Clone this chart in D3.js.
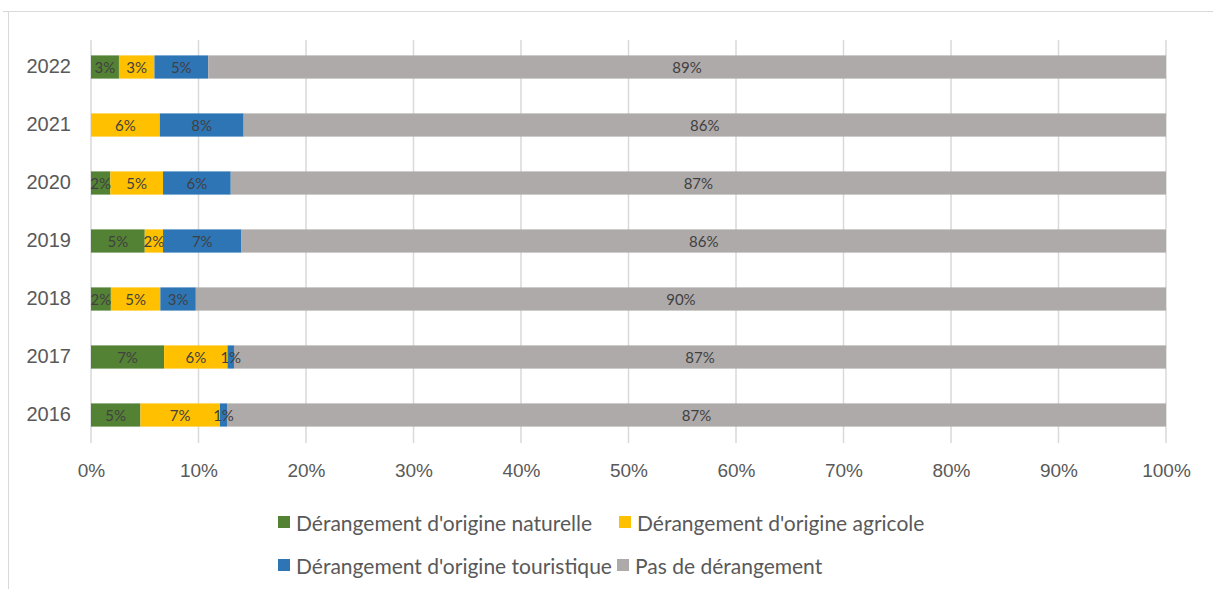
<!DOCTYPE html>
<html><head><meta charset="utf-8">
<script src="https://cdn.jsdelivr.net/npm/d3@7"></script>
<style>
html,body{margin:0;padding:0;background:#fff;}
svg{display:block;font-family:Lato,"Open Sans",sans-serif;}
</style></head>
<body><svg id="c" width="1213" height="589"></svg>
<script>
const years = ["2022","2021","2020","2019","2018","2017","2016"];
const seriesNames = ["Dérangement d'origine naturelle","Dérangement d'origine agricole","Dérangement d'origine touristique","Pas de dérangement"];
const naturelle   = [2.6, 0.0, 1.8, 5.0, 1.85, 6.8, 4.6];
const agricole    = [3.3, 6.4, 4.9, 1.7, 4.6, 5.9, 7.4];
const touristique = [5.0, 7.8, 6.3, 7.3, 3.3, 0.6, 0.65];
const aucun       = [89.1, 85.8, 87.0, 86.0, 90.25, 86.7, 87.35];
const xTicks = [0,10,20,30,40,50,60,70,80,90,100];
const colors = ["#548235","#FFC000","#2E75B6","#AEAAAA"];

const svg = d3.select("#c");
svg.append("line").attr("x1",3).attr("x2",1213).attr("y1",11.5).attr("y2",11.5).attr("stroke","#d9d9d9");
svg.append("line").attr("x1",8.5).attr("x2",8.5).attr("y1",11).attr("y2",589).attr("stroke","#d9d9d9");

const m = {left:91, right:1166, top:38, bottom:444};
const x = d3.scaleLinear().domain([0,100]).range([m.left,m.right]);
const y = d3.scaleBand().domain(years).range([m.top,m.bottom]).paddingInner(0.6).paddingOuter(0.3);

svg.append("g").selectAll("line").data(xTicks).join("line")
  .attr("x1",d=>x(d)).attr("x2",d=>x(d))
  .attr("y1",40).attr("y2",443)
  .attr("stroke","#d9d9d9").attr("stroke-width",1.5);

const xAxis = d3.axisBottom(x).tickValues(xTicks).tickFormat(d=>d+"%").tickSize(0).tickPadding(0);
const gx = svg.append("g").attr("transform",`translate(0,${m.bottom})`).call(xAxis);
gx.select(".domain").remove();
gx.selectAll("text").attr("fill","#595959").attr("font-size",19).attr("dy",null).attr("y",33);

const yAxis = d3.axisLeft(y).tickSize(0).tickPadding(20);
const gy = svg.append("g").attr("transform",`translate(${m.left},0)`).call(yAxis);
gy.select(".domain").remove();
gy.selectAll("text").attr("fill","#595959").attr("font-size",20);

const rows = years.map((yr,i)=>({year:yr, v:[naturelle[i],agricole[i],touristique[i],aucun[i]]}));
const stackData = rows.map(r=>{const o={year:r.year}; seriesNames.forEach((s,k)=>o[s]=r.v[k]); return o;});
const stacked = d3.stack().keys(seriesNames)(stackData);

const gs = svg.append("g").selectAll("g").data(stacked).join("g").attr("fill",(d,i)=>colors[i]);
gs.selectAll("rect").data(d=>d).join("rect")
  .attr("x",d=>x(d[0])).attr("width",d=>x(d[1])-x(d[0]))
  .attr("y",d=>y(d.data.year)).attr("height",y.bandwidth());

const lg = svg.append("g").selectAll("g").data(stacked).join("g");
lg.selectAll("text").data(d=>d.filter(p=>p[1]-p[0]>0)).join("text")
  .attr("x",d=>(x(d[0])+x(d[1]))/2).attr("y",d=>y(d.data.year)+y.bandwidth()/2)
  .attr("text-anchor","middle").attr("dominant-baseline","central")
  .attr("font-size",15).attr("fill","#404040")
  .text(d=>Math.round(d[1]-d[0])+"%");

const legPos = [[278,522],[619,522],[278,565],[617,565]];
const leg = svg.append("g").selectAll("g").data(seriesNames).join("g")
  .attr("transform",(d,i)=>`translate(${legPos[i][0]},${legPos[i][1]})`);
leg.append("rect").attr("x",0).attr("y",-6).attr("width",12).attr("height",12).attr("fill",(d,i)=>colors[i]);
leg.append("text").attr("x",18).attr("y",0).attr("dominant-baseline","central")
  .attr("font-size",21).attr("fill","#595959").text(d=>d);
</script></body></html>
